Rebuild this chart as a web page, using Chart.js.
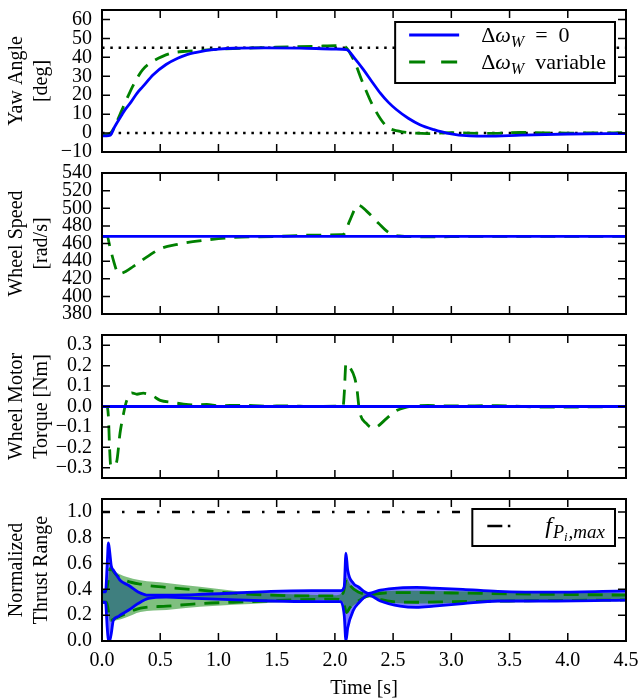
<!DOCTYPE html>
<html>
<head>
<meta charset="utf-8">
<script src="https://cdn.jsdelivr.net/npm/chart.js@4.4.1/dist/chart.umd.min.js"></script>
<style>
  body { margin: 0; background: #fff; }
  #wrap { position: relative; width: 640px; height: 700px; }
  canvas { position: absolute; left: 0; }
</style>
</head>
<body>
<div id="wrap">
  <canvas id="yawChart" width="640" height="162" style="top:0px"></canvas>
  <canvas id="speedChart" width="640" height="161" style="top:163px"></canvas>
  <canvas id="torqueChart" width="640" height="163" style="top:325px"></canvas>
  <canvas id="thrustChart" width="640" height="211" style="top:489px"></canvas>
</div>
<script>
// Time axis shared by the four panels
const timeTicks = [0, 0.5, 1, 1.5, 2, 2.5, 3, 3.5, 4, 4.5];

// Yaw angle [deg]
const yawTicks = [-10, 0, 10, 20, 30, 40, 50, 60];
const yawRefs = [45, 0];
const yawTimeFixed = [0, 0.04, 0.07, 0.11, 0.17, 0.2, 0.25, 0.3, 0.35, 0.44, 0.55, 0.65, 0.73, 0.8, 0.9, 1.0, 1.13, 1.4, 1.7, 2.0,
                      2.1, 2.17, 2.245, 2.32, 2.39, 2.46, 2.53, 2.63, 2.73, 2.85, 2.96, 3.16, 3.3, 3.6, 4.0, 4.5];
const yawFixed = [-1.5, -1.5, -1.2, 3.5, 9.6, 12.5, 16.5, 21, 24.5, 30.8, 36.2, 39.5, 41.4, 42.5, 43.7, 44.3, 44.8, 45, 44.9, 44.4,
                  44.1, 39.5, 33.5, 27, 21.1, 16.2, 12.3, 7.8, 4.4, 1.8, 0, -1.5, -1.6, -1.1, -0.5, -0.3];
const yawTimeVar = [0, 0.05, 0.08, 0.12, 0.17, 0.21, 0.27, 0.35, 0.44, 0.52, 0.61, 0.72, 0.85, 1.0, 1.3, 1.6, 1.9, 2.0, 2.08, 2.16,
                    2.24, 2.33, 2.445, 2.55, 2.62, 2.8, 3.0, 3.3, 3.6, 4.0, 4.5];
const yawVar = [-1.2, -0.8, 0.5, 5, 12, 17.6, 25.5, 33.5, 38, 40.5, 42.4, 43.2, 43.7, 44.3, 45, 45.5, 46, 46.2, 45.8, 38.8,
                26.5, 14, 3.5, 1, 0.3, -0.3, 0.2, -0.2, 0.3, 0, 0.2];

// Wheel speed [rad/s]
const speedTicks = [380, 400, 420, 440, 460, 480, 500, 520, 540];
const speedTimeFixed = [0, 4.5];
const speedFixed = [468, 468];
const speedTimeVar = [0, 0.045, 0.07, 0.1, 0.13, 0.155, 0.2, 0.27, 0.4, 0.5, 0.65, 0.78, 1.0, 1.13, 1.5, 1.8, 2.05, 2.08, 2.125, 2.2,
                      2.27, 2.375, 2.46, 2.55, 2.8, 3.2, 4.5];
const speedVar = [468, 468, 455, 440, 428, 426, 428, 434, 446, 454, 459, 462, 465.5, 466.9, 468, 469.5, 470, 471, 485, 503.5,
                  497, 483, 472.6, 468.5, 467.5, 468, 468];

// Wheel motor torque [Nm]
const torqueTicks = [-0.3, -0.2, -0.1, 0, 0.1, 0.2, 0.3];
const torqueTimeFixed = [0, 4.5];
const torqueFixed = [0, 0];
const torqueTimeVar = [0, 0.04, 0.055, 0.065, 0.075, 0.1, 0.126, 0.155, 0.183, 0.21, 0.255, 0.3, 0.355, 0.44, 0.5, 0.6, 0.7, 0.8, 0.9, 1.0,
                       1.2, 1.4, 1.6, 1.8, 2.0, 2.07, 2.08, 2.095, 2.13, 2.17, 2.19, 2.21, 2.27, 2.33, 2.36, 2.445, 2.52, 2.6, 2.8, 3.0,
                       3.4, 3.8, 4.2, 4.5];
const torqueVar = [0, 0, -0.05, -0.2, -0.29, -0.29, -0.27, -0.13, -0.04, 0.025, 0.067, 0.06, 0.065, 0.05, 0.03, 0.02, 0.012, 0.008, 0.01, 0.004,
                   0.006, 0.002, 0.003, 0, 0.002, 0, 0.06, 0.21, 0.19, 0.14, 0.083, -0.017, -0.083, -0.105, -0.1, -0.058, -0.023, -0.005, 0.005, 0.003,
                   0.004, -0.003, -0.002, 0];

// Normalized thrust range (upper / lower bounds)
const thrustTicks = [0, 0.2, 0.4, 0.6, 0.8, 1.0];
const thrustMax = 1.0;
const blueTime = [0, 0.03, 0.045, 0.055, 0.065, 0.08, 0.097, 0.14, 0.155, 0.23, 0.31, 0.4, 0.55, 0.8, 1.1, 1.45, 1.8, 2.05, 2.08, 2.095,
                  2.11, 2.16, 2.2, 2.29, 2.39, 2.56, 2.7, 2.85, 3.1, 3.4, 3.9, 4.5];
const blueHi = [0.38, 0.38, 0.6, 0.76, 0.7, 0.58, 0.55, 0.49, 0.47, 0.43, 0.38, 0.355, 0.356, 0.36, 0.37, 0.385, 0.39, 0.39, 0.42, 0.68,
                0.55, 0.446, 0.42, 0.369, 0.394, 0.412, 0.415, 0.41, 0.4, 0.385, 0.378, 0.388];
const blueLo = [0.30, 0.30, 0.1, 0.0, 0.0, 0.06, 0.16, 0.19, 0.2, 0.24, 0.29, 0.33, 0.34, 0.33, 0.32, 0.31, 0.305, 0.305, 0.2, 0.0,
                0.1, 0.24, 0.29, 0.356, 0.31, 0.27, 0.26, 0.27, 0.29, 0.31, 0.31, 0.317];
const greenTime = [0, 0.04, 0.07, 0.125, 0.2, 0.33, 0.555, 0.84, 1.13, 1.42, 1.7, 2.0, 2.07, 2.1, 2.13, 2.2, 2.3, 2.4, 2.5, 2.7,
                   3.0, 3.5, 4.0, 4.5];
const greenHi = [0.38, 0.4, 0.56, 0.51, 0.47, 0.44, 0.415, 0.394, 0.37, 0.356, 0.35, 0.35, 0.37, 0.48, 0.43, 0.38, 0.36, 0.37, 0.375, 0.375,
                 0.372, 0.365, 0.36, 0.355];
const greenLo = [0.30, 0.3, 0.16, 0.18, 0.21, 0.255, 0.27, 0.29, 0.3, 0.31, 0.32, 0.325, 0.31, 0.22, 0.26, 0.31, 0.35, 0.32, 0.305, 0.3,
                 0.305, 0.31, 0.315, 0.318];
const greenEnvHi = [0.39, 0.41, 0.58, 0.53, 0.5, 0.47, 0.45, 0.42, 0.39, 0.37, 0.36, 0.355, 0.38, 0.49, 0.44, 0.39, 0.38, 0.385, 0.39, 0.39,
                    0.385, 0.38, 0.375, 0.37];
const greenEnvLo = [0.29, 0.29, 0.15, 0.16, 0.18, 0.225, 0.24, 0.265, 0.28, 0.295, 0.31, 0.32, 0.30, 0.21, 0.25, 0.3, 0.34, 0.31, 0.295, 0.29,
                    0.295, 0.3, 0.305, 0.308];

const FONT = "'Liberation Serif', 'DejaVu Serif', serif";
const BLUE = '#0000ff';
const GREEN = '#008000';
const LW = 2.8;

const pts = (t, v) => t.map((x, i) => ({x: x, y: v[i]}));
const span = v => [{x: timeTicks[0], y: v}, {x: timeTicks[timeTicks.length - 1], y: v}];
const minus = s => s.replace('-', '\u2212');

function line(label, data, color, width, dash, extra) {
  return Object.assign({
    label: label, data: data, borderColor: color, borderWidth: width,
    borderDash: dash || [], fill: false, pointRadius: 0
  }, extra || {});
}

// rich text for legend labels (subscripts, italics)
const LEVEL_SIZE = [22, 16, 12];
const LEVEL_SHIFT = [0, 5, 8];
function setFont(ctx, p) {
  ctx.font = (p.it ? 'italic ' : '') + (p.s || LEVEL_SIZE[p.lv || 0]) + 'px ' + FONT;
}
function richWidth(ctx, parts) {
  let w = 0;
  parts.forEach(p => { setFont(ctx, p); w += ctx.measureText(p.t).width + (p.sp || 0); });
  return w;
}
function drawRich(ctx, parts, x, y) {
  ctx.fillStyle = '#000';
  ctx.textBaseline = 'alphabetic';
  ctx.textAlign = 'left';
  parts.forEach(p => {
    setFont(ctx, p);
    ctx.fillText(p.t, x, y + 7 + LEVEL_SHIFT[p.lv || 0]);
    x += ctx.measureText(p.t).width + (p.sp || 0);
  });
}

// matplotlib-like box with inward ticks on all sides
function framePlugin(yTicks) {
  return {
    id: 'frame',
    afterDatasetsDraw(chart) {
      const {ctx, chartArea: a, scales} = chart;
      ctx.save();
      ctx.strokeStyle = '#000';
      ctx.lineWidth = 1.5;
      ctx.beginPath();
      timeTicks.forEach(v => {
        const x = scales.x.getPixelForValue(v);
        ctx.moveTo(x, a.top); ctx.lineTo(x, a.top + 8);
        ctx.moveTo(x, a.bottom); ctx.lineTo(x, a.bottom - 8);
      });
      yTicks.forEach(v => {
        const y = scales.y.getPixelForValue(v);
        ctx.moveTo(a.left, y); ctx.lineTo(a.left + 8, y);
        ctx.moveTo(a.right, y); ctx.lineTo(a.right - 8, y);
      });
      ctx.stroke();
      ctx.lineWidth = 2;
      ctx.strokeRect(a.left, a.top, a.right - a.left, a.bottom - a.top);
      ctx.restore();
    }
  };
}

function legendPlugin(items, box) {
  return {
    id: 'boxLegend',
    afterDraw(chart) {
      const {ctx, chartArea: a} = chart;
      const textW = Math.max(...items.map(it => richWidth(ctx, it.parts)));
      const w = box.padLeft + box.sample + box.gap + textW + box.padRight;
      const h = box.padTop + (items.length - 1) * box.row + box.padBottom;
      const x0 = a.right - box.right - w;
      const y0 = a.top + box.top;
      ctx.save();
      ctx.fillStyle = '#fff';
      ctx.fillRect(x0, y0, w, h);
      ctx.lineWidth = 2;
      ctx.strokeStyle = '#000';
      ctx.strokeRect(x0, y0, w, h);
      items.forEach((it, i) => {
        const ds = chart.data.datasets[it.dataset];
        const y = y0 + box.padTop + i * box.row;
        ctx.beginPath();
        ctx.setLineDash(it.dash || ds.borderDash || []);
        ctx.strokeStyle = ds.borderColor;
        ctx.lineWidth = ds.borderWidth;
        ctx.moveTo(x0 + box.padLeft, y);
        ctx.lineTo(x0 + box.padLeft + box.sample, y);
        ctx.stroke();
        ctx.setLineDash([]);
        drawRich(ctx, it.parts, x0 + box.padLeft + box.sample + box.gap, y);
      });
      ctx.restore();
    }
  };
}

function makePanel(id, cfg) {
  const plugins = [framePlugin(cfg.ticks)];
  if (cfg.legend) plugins.push(legendPlugin(cfg.legend.items, cfg.legend.box));
  const noPad = s => { s.paddingTop = 0; s.paddingBottom = 0; s.paddingLeft = 0; s.paddingRight = 0; };
  return new Chart(document.getElementById(id), {
    type: 'line',
    data: {datasets: cfg.datasets},
    options: {
      responsive: false,
      animation: false,
      layout: {padding: {left: 0, right: 14, top: 10, bottom: cfg.showX ? 0 : 10}},
      elements: {line: {cubicInterpolationMode: 'monotone', borderCapStyle: 'butt'}, point: {radius: 0}},
      plugins: {legend: {display: false}, tooltip: {enabled: false}, filler: {drawTime: 'beforeDatasetsDraw'}},
      scales: {
        x: {
          type: 'linear', min: timeTicks[0], max: timeTicks[timeTicks.length - 1],
          display: !!cfg.showX,
          afterBuildTicks: s => { s.ticks = timeTicks.map(v => ({value: v})); },
          afterFit: s => { noPad(s); if (cfg.showX) s.height = 59; },
          grid: {display: false, drawTicks: false},
          border: {display: false},
          ticks: {color: '#000', padding: 8, autoSkip: false, maxRotation: 0,
                  font: {family: FONT, size: 20}, callback: v => v.toFixed(1)},
          title: {display: true, text: 'Time [s]', color: '#000', padding: {top: 0, bottom: 0},
                  font: {family: FONT, size: 20, lineHeight: 1.1}}
        },
        y: {
          min: cfg.min, max: cfg.max,
          afterBuildTicks: s => { s.ticks = cfg.ticks.map(v => ({value: v})); },
          afterFit: s => { noPad(s); s.width = 102; },
          grid: {display: false, drawTicks: false},
          border: {display: false},
          ticks: {color: '#000', padding: 10, autoSkip: false,
                  font: {family: FONT, size: 20}, callback: cfg.fmt},
          title: {display: true, text: cfg.title, color: '#000', padding: {top: 4.5, bottom: 0},
                  font: {family: FONT, size: 20, lineHeight: 1.25}}
        }
      }
    },
    plugins: plugins
  });
}

const deltaOmega = [{t: '\u0394'}, {t: '\u03c9', it: 1}, {t: 'W', it: 1, lv: 1}];

// Yaw angle
makePanel('yawChart', {
  min: -10, max: 65, ticks: yawTicks, title: ['Yaw Angle', '[deg]'],
  fmt: v => minus(String(v)),
  datasets: [
    line('\u0394\u03c9W = 0', pts(yawTimeFixed, yawFixed), BLUE, LW),
    line('\u0394\u03c9W variable', pts(yawTimeVar, yawVar), GREEN, LW, [15, 9]),
    ...yawRefs.map(v => line('ref ' + v, span(v), '#000', 2.5, [2.5, 5.8]))
  ],
  legend: {
    items: [
      {dataset: 0, parts: deltaOmega.concat([{t: '  =  0'}])},
      {dataset: 1, dash: [16, 16], parts: deltaOmega.concat([{t: '  variable'}])}
    ],
    box: {right: 11, top: 12, padLeft: 14, sample: 50, gap: 22, padRight: 9, padTop: 13, row: 27, padBottom: 21}
  }
});

// Wheel speed
makePanel('speedChart', {
  min: 380, max: 540, ticks: speedTicks, title: ['Wheel Speed', '[rad/s]'],
  fmt: v => String(v),
  datasets: [
    line('\u0394\u03c9W = 0', pts(speedTimeFixed, speedFixed), BLUE, LW),
    line('\u0394\u03c9W variable', pts(speedTimeVar, speedVar), GREEN, LW, [15, 9])
  ]
});

// Wheel motor torque
makePanel('torqueChart', {
  min: -0.35, max: 0.35, ticks: torqueTicks, title: ['Wheel Motor', 'Torque [Nm]'],
  fmt: v => minus(v.toFixed(1)),
  datasets: [
    line('\u0394\u03c9W = 0', pts(torqueTimeFixed, torqueFixed), BLUE, LW),
    line('\u0394\u03c9W variable', pts(torqueTimeVar, torqueVar), GREEN, LW, [15, 9])
  ]
});

// Normalized thrust range
const noLine = {borderColor: 'rgba(0,0,0,0)', borderWidth: 0, showLine: false};
makePanel('thrustChart', {
  min: 0, max: 1.1, ticks: thrustTicks, title: ['Normalized', 'Thrust Range'], showX: true,
  fmt: v => v.toFixed(1),
  datasets: [
    line('fixed upper', pts(blueTime, blueHi), BLUE, LW, [], {order: 0}),
    line('fixed lower', pts(blueTime, blueLo), BLUE, LW, [], {order: 0}),
    line('variable upper', pts(greenTime, greenHi), GREEN, LW, [15, 9], {order: 1}),
    line('variable lower', pts(greenTime, greenLo), GREEN, LW, [15, 9], {order: 1}),
    line('variable band', pts(greenTime, greenEnvHi), GREEN, 0, [],
         Object.assign({}, noLine, {order: 2, fill: '+1', backgroundColor: 'rgba(0,128,0,0.5)'})),
    line('variable band low', pts(greenTime, greenEnvLo), GREEN, 0, [], Object.assign({}, noLine, {order: 2})),
    line('fixed band', pts(blueTime, blueHi), BLUE, 0, [],
         Object.assign({}, noLine, {order: 3, fill: '+1', backgroundColor: 'rgba(0,0,255,0.5)'})),
    line('fixed band low', pts(blueTime, blueLo), BLUE, 0, [], Object.assign({}, noLine, {order: 3})),
    line('f_Pi,max', span(thrustMax), '#000', 2.5, [8, 12, 2.5, 12.5], {order: 1})
  ],
  legend: {
    items: [
      {dataset: 8, dash: [15, 5.5, 2.5, 40],
       parts: [{t: 'f', it: 1, s: 24, sp: 1}, {t: 'P', it: 1, lv: 1, s: 18}, {t: 'i', it: 1, lv: 2, s: 13, sp: 1},
               {t: ',max', it: 1, lv: 1, s: 19}]}
    ],
    box: {right: 11, top: 10, padLeft: 15, sample: 30, gap: 28, padRight: 10, padTop: 17, row: 27, padBottom: 20}
  }
});
</script>
</body>
</html>
